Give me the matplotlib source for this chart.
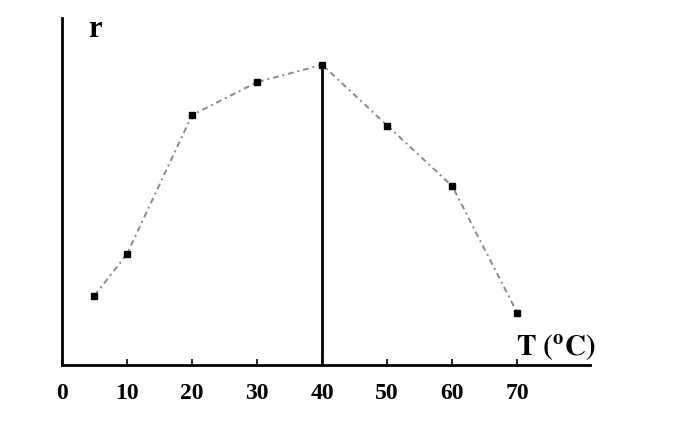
import matplotlib
matplotlib.use("Agg")
import matplotlib.pyplot as plt

# Data (r in arbitrary units)
T_values = [5, 10, 20, 30, 40, 50, 60, 70]
r_values = [20, 32, 72, 81.5, 86.5, 69, 51.5, 15]
x_ticks = [0, 10, 20, 30, 40, 50, 60, 70]
x_tick_labels = ["0", "10", "20", "30", "40", "50", "60", "70"]
peak_T = 40

plt.rcParams['mathtext.fontset'] = 'stix'

fig = plt.figure(figsize=(6.96, 4.26), dpi=100)
ax = fig.add_axes([0.089, 0.143, 0.759, 0.815])

ax.plot(T_values, r_values, linestyle=(0, (3, 2, 1, 2)), color='#8a8a80',
        linewidth=1.4, marker='s', markersize=5, markerfacecolor='black',
        markeredgecolor='black', zorder=3)

peak_r = r_values[T_values.index(peak_T)]
ax.plot([peak_T, peak_T], [0, peak_r], color='black', linewidth=2, zorder=2)

ax.set_xlim(0, 81.2)
ax.set_ylim(0, 100)
ax.set_xticks(x_ticks)
ax.set_xticklabels(x_tick_labels, fontfamily='Liberation Serif',
                   fontweight='bold', fontsize=17)
ax.set_yticks([])
ax.tick_params(axis='x', direction='in', length=4, width=1.2, pad=13)

for s in ['top', 'right']:
    ax.spines[s].set_visible(False)
ax.spines['left'].set_linewidth(2)
ax.spines['bottom'].set_linewidth(2)

ax.text(0.062, 0.945, 'r', transform=ax.transAxes, fontfamily='Liberation Serif',
        fontweight='bold', fontsize=22, ha='center', va='baseline')
ax.text(1.01, 0.005, r'$\mathbf{T\ (^{o}C)}$', transform=ax.transAxes,
        fontsize=21, ha='right', va='bottom')

fig.savefig('out.png', dpi=100, facecolor='white')
